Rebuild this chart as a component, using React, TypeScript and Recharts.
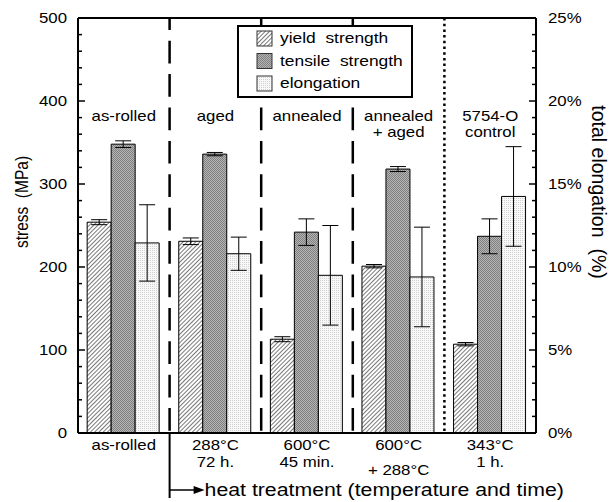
import React from 'react';
import { BarChart, Bar, XAxis, YAxis, ErrorBar, ReferenceLine, ReferenceArea, Legend } from 'recharts';

const categories = ['as-rolled', 'aged', 'annealed', 'annealed + aged', '5754-O control'];
const groupLabelTop = ['as-rolled', 'aged', 'annealed', 'annealed', '5754-O'];
const groupLabelBottom = ['', '', '', '+ aged', 'control'];
const tickLine1 = ['as-rolled', '288°C', '600°C', '600°C', '343°C'];
const tickLine2 = ['', '72 h.', '45 min.', '+ 288°C', '1 h.'];

const yieldValues = [254, 231, 113, 201, 107];
const yieldErrors = [3, 4, 3, 2, 2];
const tensileValues = [348, 336, 242, 318, 237];
const tensileErrors = [4, 2, 16, 3, 21];
const elongationValues = [11.45, 10.8, 9.5, 9.4, 14.25];
const elongationErrors = [2.3, 1.0, 3.0, 3.0, 3.0];

const stressTicks = [0, 20, 40, 60, 80, 100, 120, 140, 160, 180, 200, 220, 240, 260, 280, 300, 320, 340, 360, 380, 400, 420, 440, 460, 480, 500];
const elongTicks = [0, 1, 2, 3, 4, 5, 6, 7, 8, 9, 10, 11, 12, 13, 14, 15, 16, 17, 18, 19, 20, 21, 22, 23, 24, 25];
const seriesNames = ['yield  strength', 'tensile  strength', 'elongation'];
const seriesPatterns = ['patYield', 'patTensile', 'patElong'];

const data = categories.map((c, i) => ({
  cat: c,
  pos: i + 0.5,
  yieldS: yieldValues[i],
  yieldErr: yieldErrors[i],
  tensile: tensileValues[i],
  tensileErr: tensileErrors[i],
  elong: elongationValues[i],
  elongErr: elongationErrors[i],
}));

const FONT = '"Liberation Sans", Arial, Helvetica, sans-serif';

function ST(props: any) {
  const { x, y, size = 14, sx = 1.2, anchor = 'middle', rot = 0, children } = props;
  return (
    <text
      transform={`translate(${x},${y}) scale(${sx},1)${rot ? ` rotate(${rot})` : ''}`}
      x={0}
      y={0}
      textAnchor={anchor}
      dominantBaseline="central"
      fontSize={size}
      fontFamily={FONT}
      fill="#000"
      style={{ whiteSpace: 'pre' }}
    >
      {children}
    </text>
  );
}

function Patterns({ suffix = '' }: { suffix?: string }) {
  return (
    <defs>
      <pattern id={`patYield${suffix}`} width={3} height={3} patternUnits="userSpaceOnUse" patternTransform="rotate(45)">
        <rect width={3} height={3} fill="#fff" />
        <line x1={0.5} y1={0} x2={0.5} y2={3} stroke="#6a6a6a" strokeWidth={0.9} />
      </pattern>
      <pattern id={`patTensile${suffix}`} width={2} height={2} patternUnits="userSpaceOnUse">
        <rect width={2} height={2} fill="#b4b4b4" />
        <rect width={1} height={1} fill="#808080" />
        <rect x={1} y={1} width={1} height={1} fill="#808080" />
      </pattern>
      <pattern id={`patElong${suffix}`} width={2} height={2} patternUnits="userSpaceOnUse">
        <rect width={2} height={2} fill="#f8f8f8" />
        <rect width={1} height={1} fill="#d2d2d2" />
      </pattern>
    </defs>
  );
}

const LeftTick = (p: any) => {
  const { x, y, payload } = p;
  const v = payload.value;
  const major = v % 100 === 0;
  return (
    <g>
      <line x1={x} x2={x + (major ? 7 : 4)} y1={y} y2={y} stroke="#000" strokeWidth={1.5} />
      {major && <ST x={x - 11} y={y} anchor="end">{String(v)}</ST>}
    </g>
  );
};

const RightTick = (p: any) => {
  const { x, y, payload } = p;
  const v = payload.value;
  const major = v % 5 === 0;
  return (
    <g>
      <line x1={x} x2={x - (major ? 7 : 4)} y1={y} y2={y} stroke="#000" strokeWidth={1.5} />
      {major && <ST x={x + 12} y={y} anchor="start">{`${v}%`}</ST>}
    </g>
  );
};

const BottomTick = (p: any) => {
  const { x, y, payload } = p;
  const i = payload.index;
  const l2 = tickLine2[i];
  return (
    <g>
      <ST x={x} y={y + 12}>{tickLine1[i]}</ST>
      {l2 && <ST x={x} y={y + (l2.startsWith('+') ? 37 : 29)}>{l2}</ST>}
    </g>
  );
};

const vline = (kind: 'dash' | 'dot', arrow = false) => (p: any) => {
  const top = Math.min(p.y1, p.y2);
  const bottom = Math.max(p.y1, p.y2);
  const x = p.x1;
  return (
    <g>
      <line
        x1={x}
        x2={x}
        y1={top}
        y2={bottom}
        stroke="#000"
        strokeWidth={kind === 'dash' ? 2.5 : 2.5}
        strokeDasharray={kind === 'dash' ? '22.7 10.7' : '2.5 3.2'}
        strokeDashoffset={kind === 'dash' ? 10.7 : 0}
      />
      {arrow && (
        <g>
          <line x1={x} x2={x} y1={bottom} y2={bottom + 65} stroke="#000" strokeWidth={2} />
          <line x1={x} x2={x + 27} y1={bottom + 57} y2={bottom + 57} stroke="#000" strokeWidth={1.5} />
          <polygon points={`${x + 24},${bottom + 53} ${x + 35},${bottom + 57} ${x + 24},${bottom + 61}`} fill="#000" />
          <ST x={x + 35} y={bottom + 57} size={18.5} sx={1.15} anchor="start">heat treatment (temperature and time)</ST>
        </g>
      )}
    </g>
  );
};

const groupLabel = (i: number) => (p: any) => {
  const vb = p.viewBox;
  const cx = vb.x + vb.width / 2;
  return (
    <g>
      <ST x={cx} y={vb.y + 98}>{groupLabelTop[i]}</ST>
      {groupLabelBottom[i] && <ST x={cx} y={vb.y + 114}>{groupLabelBottom[i]}</ST>}
    </g>
  );
};

const LegendBox = () => (
  <svg width={176} height={73} style={{ display: 'block' }}>
    <Patterns suffix="L" />
    <rect x={1} y={1} width={174} height={71} fill="#fff" stroke="#000" strokeWidth={2} />
    {seriesNames.map((n, i) => (
      <g key={n}>
        <rect x={20} y={6 + i * 22.5} width={15} height={15} fill={`url(#${seriesPatterns[i]}L)`} stroke="#333" strokeWidth={1} />
        <ST x={43} y={13.5 + i * 22.5} anchor="start" size={14.5}>{n}</ST>
      </g>
    ))}
  </svg>
);

const LeftLabel = (p: any) => {
  const vb = p.viewBox;
  return <ST x={vb.x + 22} y={vb.y + 184} size={15.5} rot={-90}>stress  (MPa)</ST>;
};

const RightLabel = (p: any) => {
  const vb = p.viewBox;
  return <ST x={vb.x + 63} y={vb.y + 174} size={19.5} sx={1} rot={90}>total elongation  (%)</ST>;
};

export default function App() {
  return (
    <div style={{ position: 'absolute', left: 0, top: 0, width: 614, height: 502, background: '#fff' }}>
      <BarChart
        width={614}
        height={502}
        data={data}
        margin={{ top: 18, right: 0, bottom: 0, left: 0 }}
        barCategoryGap="10%"
        barGap={0}
      >
        <Patterns />
        <XAxis
          xAxisId="cat"
          dataKey="cat"
          height={69}
          tickLine={false}
          tickSize={0}
          tickMargin={0}
          interval={0}
          axisLine={{ stroke: '#000', strokeWidth: 2 }}
          tick={<BottomTick />}
        />
        <XAxis xAxisId="num" dataKey="pos" type="number" domain={[0, 5]} allowDataOverflow hide />
        <YAxis
          yAxisId="left"
          width={78}
          domain={[0, 500]}
          ticks={stressTicks}
          interval={0}
          tickLine={false}
          tickSize={0}
          tickMargin={0}
          axisLine={{ stroke: '#000', strokeWidth: 2 }}
          tick={<LeftTick />}
          label={(p: any) => <LeftLabel {...p} />}
        />
        <YAxis
          yAxisId="right"
          orientation="right"
          width={78}
          domain={[0, 25]}
          ticks={elongTicks}
          interval={0}
          tickLine={false}
          tickSize={0}
          tickMargin={0}
          axisLine={{ stroke: '#000', strokeWidth: 2 }}
          tick={<RightTick />}
          label={(p: any) => <RightLabel {...p} />}
        />
        {categories.map((c, i) => (
          <ReferenceArea
            key={c}
            xAxisId="num"
            yAxisId="left"
            x1={i}
            x2={i + 1}
            y1={0}
            y2={500}
            fill="none"
            fillOpacity={0}
            stroke="none"
            label={groupLabel(i)}
          />
        ))}
        <ReferenceLine xAxisId="num" yAxisId="left" x={1} shape={vline('dash', true)} />
        <ReferenceLine xAxisId="num" yAxisId="left" x={2} shape={vline('dash')} />
        <ReferenceLine xAxisId="num" yAxisId="left" x={3} shape={vline('dash')} />
        <ReferenceLine xAxisId="num" yAxisId="left" x={4} shape={vline('dot')} />
        <ReferenceLine xAxisId="cat" yAxisId="left" y={500} stroke="#000" strokeWidth={2} />
        <Bar xAxisId="cat" yAxisId="left" dataKey="yieldS" name={seriesNames[0]} fill="url(#patYield)" stroke="#000" strokeWidth={1} isAnimationActive={false}>
          <ErrorBar dataKey="yieldErr" width={8} stroke="#000" strokeWidth={1} direction="y" isAnimationActive={false} />
        </Bar>
        <Bar xAxisId="cat" yAxisId="left" dataKey="tensile" name={seriesNames[1]} fill="url(#patTensile)" stroke="#000" strokeWidth={1} isAnimationActive={false}>
          <ErrorBar dataKey="tensileErr" width={8} stroke="#000" strokeWidth={1} direction="y" isAnimationActive={false} />
        </Bar>
        <Bar xAxisId="cat" yAxisId="right" dataKey="elong" name={seriesNames[2]} fill="url(#patElong)" stroke="#000" strokeWidth={1} isAnimationActive={false}>
          <ErrorBar dataKey="elongErr" width={8} stroke="#000" strokeWidth={1} direction="y" isAnimationActive={false} />
        </Bar>
        <Legend
          layout="vertical"
          align="center"
          verticalAlign="middle"
          content={() => <LegendBox />}
          wrapperStyle={{ left: 237, top: 25, width: 176, height: 73 }}
        />
      </BarChart>
    </div>
  );
}
